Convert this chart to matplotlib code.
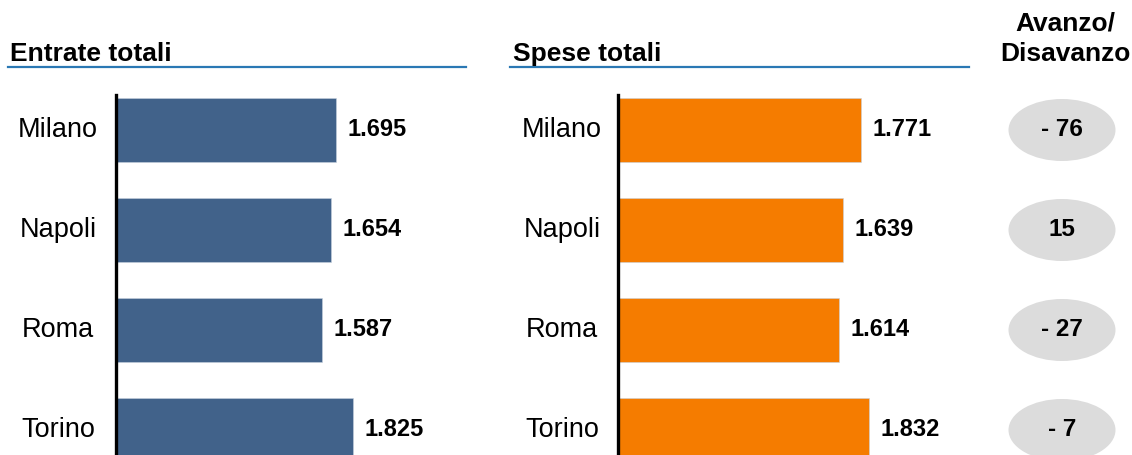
import matplotlib
matplotlib.use("Agg")
import matplotlib.pyplot as plt
from matplotlib.lines import Line2D
from matplotlib.patches import Ellipse

plt.rcParams["font.family"] = ["Liberation Sans", "DejaVu Sans"]

CITIES = ["Milano", "Napoli", "Roma", "Torino"]
ENTRATE = [1695, 1654, 1587, 1825]
SPESE = [1771, 1639, 1614, 1832]
TITLE_LEFT = "Entrate totali"
TITLE_RIGHT = "Spese totali"
TITLE_DIFF = "Avanzo/\nDisavanzo"

BLUE = "#41628a"
ORANGE = "#f57c00"
LINE_BLUE = "#2a78b4"
W, H = 1132, 455


def fmt_it(v):
    return f"{v:,}".replace(",", ".")


def fmt_diff(v):
    return f"- {abs(v)}" if v < 0 else f"{v}"


def px_axes(fig, left, top, width, bottom=H):
    return fig.add_axes([left / W, 1 - bottom / H, width / W, (bottom - top) / H])


def bar_panel(ax, values, color, xmax, label_x):
    ypos = list(range(len(CITIES)))
    ax.barh(ypos, values, height=0.64, color=color, edgecolor="#c8d2de", linewidth=0.4)
    ax.set_xlim(0, xmax)
    ax.set_ylim(3.25, -0.35)
    for s in ["top", "right", "bottom"]:
        ax.spines[s].set_visible(False)
    ax.spines["left"].set_linewidth(2.4)
    ax.spines["left"].set_color("black")
    ax.set_xticks([])
    ax.set_yticks([])
    for y, v, c in zip(ypos, values, CITIES):
        ax.annotate(fmt_it(v), xy=(v, y), xytext=(8.5, 0), textcoords="offset points",
                    ha="left", va="center", fontsize=17, fontweight="bold")
        ax.text(label_x, y, c, transform=ax.get_yaxis_transform(),
                ha="center", va="center", fontsize=19.5)


def main():
    fig = plt.figure(figsize=(W / 100, H / 100), dpi=100)

    ax1 = px_axes(fig, 116, 95, 350)
    bar_panel(ax1, ENTRATE, BLUE, 350 / 0.1298, (58 - 116) / 350)

    ax2 = px_axes(fig, 618, 95, 350)
    bar_panel(ax2, SPESE, ORANGE, 350 / 0.137, (562 - 618) / 350)

    # titles with underline
    fig.text(10 / W, 1 - 61 / H, TITLE_LEFT, fontsize=19, fontweight="bold", va="baseline")
    fig.text(513 / W, 1 - 61 / H, TITLE_RIGHT, fontsize=19, fontweight="bold", va="baseline")
    for x0, x1 in [(8, 466), (510, 969)]:
        fig.add_artist(Line2D([x0 / W, x1 / W], [1 - 67 / H] * 2,
                              color=LINE_BLUE, linewidth=1.6, transform=fig.transFigure))
    fig.text(1065 / W, 1 - 39 / H, TITLE_DIFF, fontsize=19, fontweight="bold",
             ha="center", va="center", linespacing=1.35)

    # surplus / deficit ellipses
    ax3 = px_axes(fig, 1000, 95, 132)
    ax3.set_xlim(0, 1)
    ax3.set_ylim(3.25, -0.35)
    ax3.axis("off")
    for y, (e, s) in enumerate(zip(ENTRATE, SPESE)):
        ax3.add_patch(Ellipse((62 / 132, y), 107 / 132, 0.62, facecolor="#dcdcdc",
                              edgecolor="none", clip_on=False))
        ax3.text(62 / 132, y, fmt_diff(e - s), ha="center", va="center",
                 fontsize=17.5, fontweight="bold")

    fig.savefig("out.png", dpi=100)


if __name__ == "__main__":
    main()
